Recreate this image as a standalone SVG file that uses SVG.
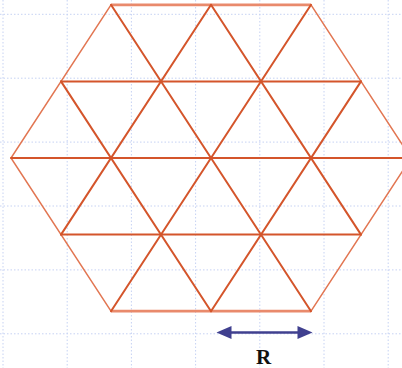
<svg xmlns="http://www.w3.org/2000/svg" width="402" height="368" viewBox="0 0 402 368">
<style>
.grid line{stroke:#c6d2f3;stroke-width:1;stroke-dasharray:1.5 2}
.inner{stroke:#d4552b;stroke-width:2;fill:none;stroke-linecap:round}
.outer{stroke:#e27652;stroke-width:1.5;fill:none;stroke-linecap:round}
.outerh{stroke:#e98a6c;stroke-width:2.8;fill:none}
.arrow{fill:#40408f}
.lbl{font-family:"Liberation Serif","Times New Roman",serif;font-weight:bold;font-size:21px;fill:#111}
</style>
<rect width="402" height="368" fill="#fff"/>
<g class="grid">
<line x1="3" y1="0" x2="3" y2="368"/>
<line x1="67.2" y1="0" x2="67.2" y2="368"/>
<line x1="131.4" y1="0" x2="131.4" y2="368"/>
<line x1="195.6" y1="0" x2="195.6" y2="368"/>
<line x1="259.8" y1="0" x2="259.8" y2="368"/>
<line x1="324" y1="0" x2="324" y2="368"/>
<line x1="388.2" y1="0" x2="388.2" y2="368"/>
<line x1="0" y1="14.3" x2="402" y2="14.3"/>
<line x1="0" y1="78.2" x2="402" y2="78.2"/>
<line x1="0" y1="142.1" x2="402" y2="142.1"/>
<line x1="0" y1="206" x2="402" y2="206"/>
<line x1="0" y1="269.9" x2="402" y2="269.9"/>
<line x1="0" y1="333.8" x2="402" y2="333.8"/>
</g>
<g id="hexagon">
<line class="outerh" x1="111" y1="4.8" x2="311" y2="4.8"/>
<line class="outerh" x1="111" y1="311.2" x2="311" y2="311.2"/>
<polyline class="outer" points="111,4.8 11,158 111,311.2"/>
<polyline class="outer" points="311,4.8 411,158 311,311.2"/>
</g>
<g id="grid-lines">
<line class="inner" x1="61" y1="81.4" x2="361" y2="81.4"/>
<line class="inner" x1="11" y1="158" x2="411" y2="158"/>
<line class="inner" x1="61" y1="234.6" x2="361" y2="234.6"/>
<line class="inner" x1="61" y1="234.6" x2="211" y2="4.8"/>
<line class="inner" x1="111" y1="311.2" x2="311" y2="4.8"/>
<line class="inner" x1="211" y1="311.2" x2="361" y2="81.4"/>
<line class="inner" x1="61" y1="81.4" x2="211" y2="311.2"/>
<line class="inner" x1="111" y1="4.8" x2="311" y2="311.2"/>
<line class="inner" x1="211" y1="4.8" x2="361" y2="234.6"/>
</g>
<g id="dimension">
<line x1="228" y1="332.5" x2="301" y2="332.5" stroke="#40408f" stroke-width="2.5"/>
<polygon class="arrow" points="216.5,332.5 231.5,326 231.5,339"/>
<polygon class="arrow" points="312.5,332.5 297.5,326 297.5,339"/>
<text class="lbl" x="263.5" y="363.5" text-anchor="middle">R</text>
</g>
</svg>
